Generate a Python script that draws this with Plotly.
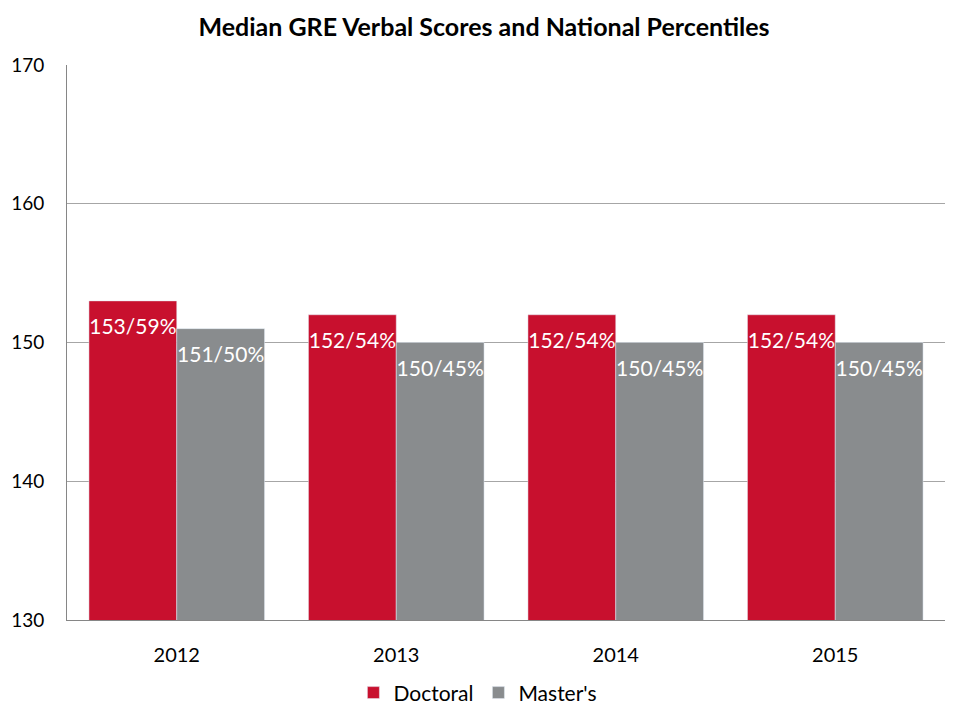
import plotly.graph_objects as go

years = ["2012", "2013", "2014", "2015"]
doctoral = [153, 152, 152, 152]
masters = [151, 150, 150, 150]
doctoral_labels = ["153/59%", "152/54%", "152/54%", "152/54%"]
masters_labels = ["151/50%", "150/45%", "150/45%", "150/45%"]

FONT = "Lato, Open Sans, sans-serif"

fig = go.Figure()
fig.add_trace(go.Bar(
    x=years, y=doctoral, name="Doctoral", marker_color="#C8102E",
    text=doctoral_labels, textposition="inside", insidetextanchor="end", textangle=0,
    texttemplate="<span style='font-size:3px'> </span><br>%{text}",
    textfont=dict(color="white", size=21, family=FONT), constraintext="none",
    base=0,
))
fig.add_trace(go.Bar(
    x=years, y=masters, name="Master's", marker_color="#898C8E",
    text=masters_labels, textposition="inside", insidetextanchor="end", textangle=0,
    texttemplate="<span style='font-size:3px'> </span><br>%{text}",
    textfont=dict(color="white", size=21, family=FONT), constraintext="none",
    base=0,
))

fig.update_layout(
    width=952, height=712,
    barmode="group", bargap=0.2, bargroupgap=0,
    plot_bgcolor="white", paper_bgcolor="white",
    font=dict(family=FONT, size=19, color="black"),
    title=dict(text="<b>Median GRE Verbal Scores and National Percentiles</b>",
               x=0.5, xanchor="center", y=0.973, yanchor="middle",
               font=dict(size=25, family=FONT)),
    margin=dict(l=59, r=15, t=57, b=100),
    legend=dict(orientation="h", x=0.468, xanchor="center",
                yref="container", y=0.038, yanchor="middle",
                font=dict(size=21), itemwidth=30, traceorder="normal"),
    showlegend=True,
)
fig.update_yaxes(range=[130, 170], dtick=10, showgrid=True, gridcolor="#A6A6A6",
                 showline=True, linecolor="#868686", linewidth=1, automargin=False,
                 ticks="", tickfont=dict(size=19), ticklabelstandoff=18, zeroline=False)
fig.update_xaxes(showline=True, linecolor="#868686", linewidth=1, ticks="", automargin=False,
                 tickfont=dict(size=20), ticklabelstandoff=17)

fig.write_html("out.html")
